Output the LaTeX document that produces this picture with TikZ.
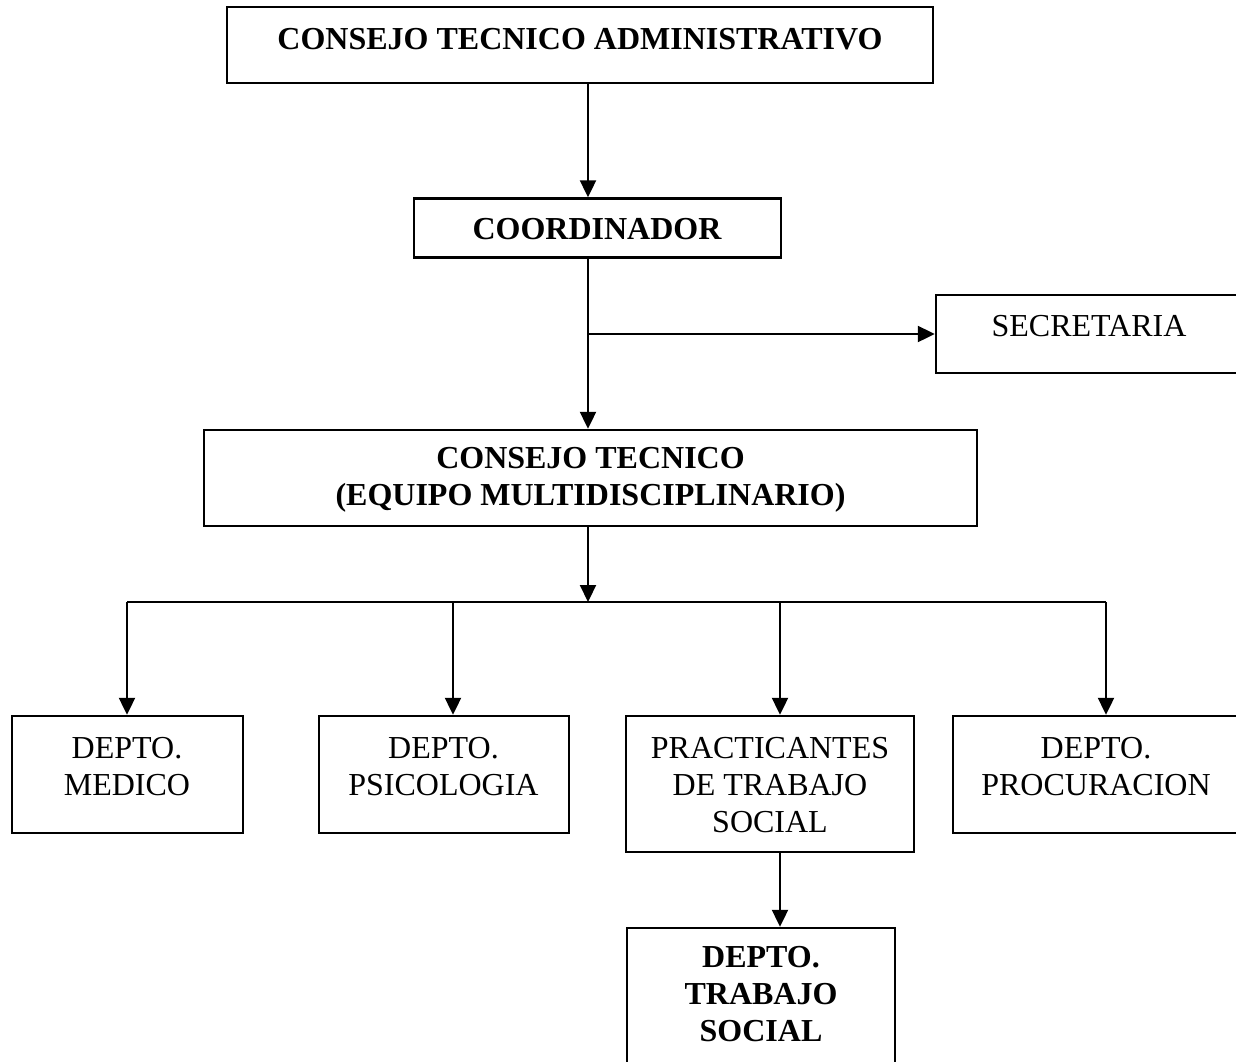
\documentclass[tikz,border=0pt]{standalone}
\usepackage{fontspec}
\setmainfont{Liberation Serif}
\usetikzlibrary{arrows.meta}
\tikzset{
  box/.style={draw=black, line width=2.4pt, inner sep=0pt, rectangle},
  lbl/.style={align=center, inner sep=0pt, font=\fontsize{32}{37}\selectfont},
  blbl/.style={lbl, font=\fontsize{32}{37}\selectfont\bfseries},
  conn/.style={draw=black, line width=2.1pt},
  arr/.style={conn, -{Triangle[length=17pt,width=16pt]}}
}
\begin{document}
\begin{tikzpicture}[x=1pt,y=-1pt]
\useasboundingbox (0,0) rectangle (1236,1061);
% boxes
\node[box, minimum width=706pt, minimum height=76pt] (cta) at (580,45) {};
\node[box, minimum width=367pt, minimum height=59pt] (coord) at (597.5,228) {};
\node[box, minimum width=310pt, minimum height=78pt] (sec) at (1091,334) {};
\node[box, minimum width=773pt, minimum height=96pt] (ct) at (590.5,478) {};
\node[box, minimum width=231pt, minimum height=117pt] (med) at (127.5,774.5) {};
\node[box, minimum width=250pt, minimum height=117pt] (psi) at (444,774.5) {};
\node[box, minimum width=288pt, minimum height=136pt] (prac) at (770,784) {};
\node[box, minimum width=290pt, minimum height=117pt] (proc) at (1098,774.5) {};
\node[box, minimum width=268pt, minimum height=152pt] (dts) at (761,1004) {};
% labels
\node[blbl] (tcta) at (580,39) {CONSEJO TECNICO ADMINISTRATIVO};
\node[blbl] (tcoord) at (597,229) {COORDINADOR};
\node[lbl] (tsec) at (1089,326.5) {SECRETARIA};
\node[blbl] (tct) at (590.5,480) {CONSEJO TECNICO\\(EQUIPO MULTIDISCIPLINARIO)};
\node[lbl] (tmed) at (127,766.5) {DEPTO.\\MEDICO};
\node[lbl] (tpsi) at (443.5,766.5) {DEPTO.\\PSICOLOGIA};
\node[lbl] (tprac) at (770,785) {PRACTICANTES\\DE TRABAJO\\SOCIAL};
\node[lbl] (tproc) at (1096,766.5) {DEPTO.\\PROCURACION};
\node[blbl] (tdts) at (761,994.5) {DEPTO.\\TRABAJO\\SOCIAL};
% connector helpers
\coordinate (spine) at (588,0);
\coordinate (br) at (588,334);
\coordinate (busL) at (127,602);
\coordinate (busR) at (1106,602);
\coordinate (bus) at (588,602);
\coordinate (x2) at (453,602);
\coordinate (x3) at (780,602);
% connectors
\draw[arr] (cta.south -| spine) -- (coord.north -| spine);
\draw[arr] (coord.south -| spine) -- (ct.north -| spine);
\draw[arr] (br) -- (sec.west |- br);
\draw[arr] (ct.south -| spine) -- (bus);
\draw[conn] (busL) -- (busR);
\draw[arr] (busL) -- (med.north -| busL);
\draw[arr] (x2) -- (psi.north -| x2);
\draw[arr] (x3) -- (prac.north -| x3);
\draw[arr] (busR) -- (proc.north -| busR);
\draw[arr] (prac.south -| x3) -- (dts.north -| x3);
\end{tikzpicture}
\end{document}
